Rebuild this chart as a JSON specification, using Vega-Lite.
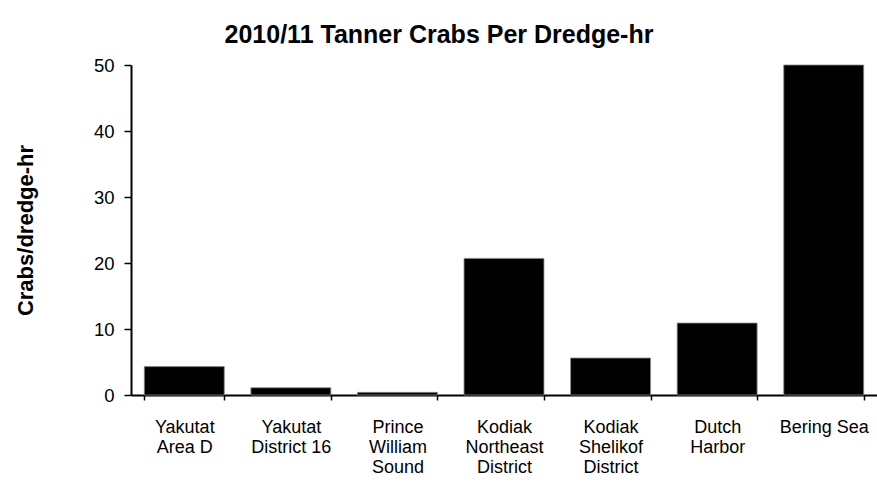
{
  "$schema": "https://vega.github.io/schema/vega-lite/v6.json",
  "width": 746,
  "height": 330,
  "autosize": {"type": "none"},
  "padding": {"left": 131, "top": 65, "right": 0, "bottom": 88},
  "background": "white",
  "title": {
    "text": "2010/11 Tanner Crabs Per Dredge-hr",
    "font": "Liberation Sans",
    "fontSize": 25,
    "fontWeight": "bold",
    "color": "black",
    "anchor": "middle",
    "frame": "group",
    "dx": -65,
    "offset": 8
  },
  "data": {
    "values": [
      {"site": "Yakutat|Area D", "crabs": 4.3},
      {"site": "Yakutat|District 16", "crabs": 1.1},
      {"site": "Prince|William|Sound", "crabs": 0.4},
      {"site": "Kodiak|Northeast|District", "crabs": 20.7},
      {"site": "Kodiak|Shelikof|District", "crabs": 5.6},
      {"site": "Dutch|Harbor", "crabs": 10.9},
      {"site": "Bering Sea", "crabs": 50}
    ]
  },
  "mark": {"type": "bar", "color": "black", "stroke": "#888888", "strokeWidth": 0.8},
  "encoding": {
    "x": {
      "field": "site",
      "type": "nominal",
      "sort": null,
      "scale": {"paddingInner": 0.25, "paddingOuter": 0.125},
      "axis": {
        "title": null,
        "labelAngle": 0,
        "labelExpr": "split(datum.label, '|')",
        "labelFont": "Liberation Sans",
        "labelFontSize": 18,
        "labelColor": "black",
        "labelLineHeight": 20,
        "labelPadding": 18,
        "tickBand": "extent",
        "tickSize": 5,
        "tickColor": "black",
        "tickWidth": 1.5,
        "domainColor": "black",
        "domainWidth": 2,
        "grid": false
      }
    },
    "y": {
      "field": "crabs",
      "type": "quantitative",
      "scale": {"domain": [0, 50], "nice": false},
      "axis": {
        "title": "Crabs/dredge-hr",
        "titleFont": "Liberation Sans",
        "titleFontSize": 22,
        "titleFontWeight": "bold",
        "titleColor": "black",
        "titlePadding": 56,
        "values": [0, 10, 20, 30, 40, 50],
        "labelFont": "Liberation Sans",
        "labelFontSize": 18.5,
        "labelColor": "black",
        "labelPadding": 10,
        "tickSize": 7,
        "tickColor": "black",
        "tickWidth": 1.5,
        "domainColor": "black",
        "domainWidth": 2,
        "grid": false
      }
    }
  },
  "config": {"view": {"stroke": null}}
}
